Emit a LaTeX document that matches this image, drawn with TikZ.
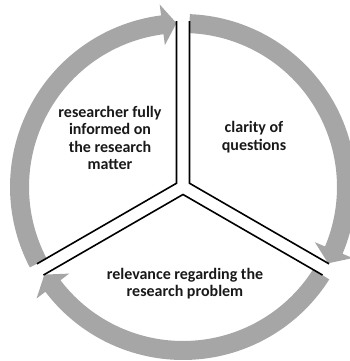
\documentclass[tikz,border=0pt]{standalone}
\usepackage{fontspec}
\setmainfont{Carlito}
\begin{document}
\begin{tikzpicture}[x=1pt,y=1pt,
  ringarrow/.style={fill={rgb,255:red,166;green,166;blue,166}},
  divider/.style={draw=black,line width=1.6pt,line join=miter},
  label/.style={align=center,font=\fontsize{16}{17.6}\selectfont\bfseries,text={black!90}}]
\useasboundingbox (0,0) rectangle (350,361);
\begin{scope}[shift={(183,174)}]
  % ring arrows: start, tip, back angles
  \foreach \s/\t in {87.72/-27.72, -32.28/-147.72, -152.28/-267.72}{
    \pgfmathsetmacro{\b}{\t+5}
    \fill[ringarrow] (\s:154pt) arc[start angle=\s, end angle=\b, radius=154pt]
      -- (\b:143pt) -- (\t:164pt) -- (\b:184pt) -- (\b:173pt)
      arc[start angle=\b, end angle=\s, radius=173pt] -- cycle;
  }
  % sector corners and divider ends
  \coordinate (cA) at (150:7.5pt);
  \coordinate (cB) at (30:7.5pt);
  \coordinate (cC) at (270:7.5pt);
  \coordinate (a1) at (92.25:166pt);
  \coordinate (a2) at (207.75:165pt);
  \coordinate (b1) at (87.75:166pt);
  \coordinate (b2) at (-27.75:165pt);
  \coordinate (c1) at (212.25:165pt);
  \coordinate (c2) at (-32.25:165pt);
  \draw[divider] (a1) -- (cA) -- (a2);
  \draw[divider] (b1) -- (cB) -- (b2);
  \draw[divider] (c1) -- (cC) -- (c2);
\end{scope}
\node[label] (informed) at (110,223) {researcher fully\\informed on\\the research\\matter};
\node[label] (clarity) at (254,224) {clarity of\\questions};
\node[label] (relevance) at (185,77.5) {relevance regarding the\\research problem};
\end{tikzpicture}
\end{document}
